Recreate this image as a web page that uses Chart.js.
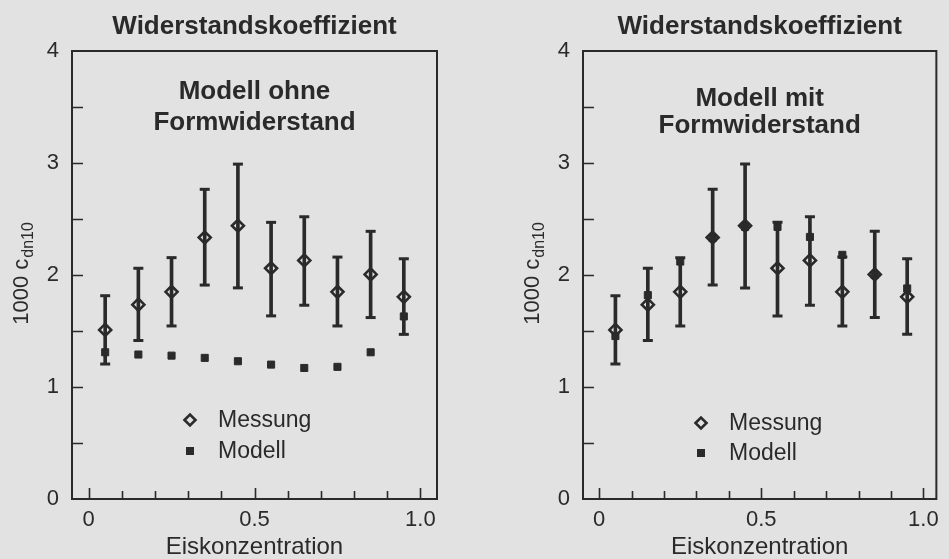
<!DOCTYPE html>
<html><head><meta charset="utf-8">
<script src="https://cdn.jsdelivr.net/npm/chart.js@4/dist/chart.umd.min.js"></script>
<style>
html,body{margin:0;padding:0;background:#e2e2e2;}
#wrap{position:relative;width:949px;height:559px;overflow:hidden;background:#e2e2e2;}
canvas{position:absolute;top:0;}
</style></head><body>
<div id="wrap">
<canvas id="c1" width="475" height="559" style="left:0;width:475px;height:559px"></canvas>
<canvas id="c2" width="438" height="559" style="left:511px;width:438px;height:559px"></canvas>
</div>
<script>
// ---- data ----
const concentration = [0.05, 0.15, 0.25, 0.35, 0.45, 0.55, 0.65, 0.75, 0.85, 0.95];
const measured      = [1.51, 1.735, 1.85, 2.335, 2.44, 2.06, 2.13, 1.85, 2.005, 1.805];
const measuredUpper = [1.815, 2.06, 2.155, 2.765, 2.99, 2.47, 2.52, 2.16, 2.39, 2.145];
const measuredLower = [1.205, 1.415, 1.545, 1.91, 1.885, 1.635, 1.73, 1.545, 1.62, 1.47];
const modelWithout  = [1.31, 1.29, 1.28, 1.26, 1.23, 1.20, 1.17, 1.18, 1.31, 1.63];
const modelWith     = [1.455, 1.82, 2.12, 2.33, 2.43, 2.43, 2.34, 2.18, 2.0, 1.88];
const xTickValues   = [0, 0.5, 1.0];
const xTickLabels   = ['0', '0.5', '1.0'];
const yTickValues   = [0, 1, 2, 3, 4];
const chartTitle    = 'Widerstandskoeffizient';
const panelTitles   = [['Modell ohne', 'Formwiderstand'], ['Modell mit', 'Formwiderstand']];
const legendLabels  = ['Messung', 'Modell'];
const xAxisTitle    = 'Eiskonzentration';
const yAxisMain     = '1000 c';
const yAxisSub      = 'dn10';

const INK = '#2a2a2a';
const FONT = "'Liberation Sans', Arial, Helvetica, sans-serif";

function pts(vals) { return concentration.map((x, i) => ({x: x, y: vals[i]})); }

const decor = {
  id: 'decor',
  beforeDatasetsDraw(chart) {
    const {ctx, chartArea: a, scales: {x, y}} = chart;
    ctx.save();
    ctx.strokeStyle = INK;
    ctx.lineWidth = 2;
    ctx.strokeRect(a.left, a.top, a.right - a.left, a.bottom - a.top);
    ctx.lineWidth = 1.6;
    ctx.beginPath();
    for (let k = 1; k < 8; k++) {
      const py = Math.round(y.getPixelForValue(k * 0.5)) + 0.5;
      ctx.moveTo(a.left, py); ctx.lineTo(a.left + 11, py);
    }
    for (let k = 0; k <= 10; k++) {
      const px = Math.round(x.getPixelForValue(k / 10)) + 0.5;
      const len = (k % 5 === 0) ? 11 : 8;
      ctx.moveTo(px, a.bottom); ctx.lineTo(px, a.bottom - len);
    }
    ctx.stroke();
    ctx.restore();
  },
  afterDraw(chart, args, o) {
    const {ctx, chartArea: a} = chart;
    const cx = (a.left + a.right) / 2;
    ctx.save();
    ctx.fillStyle = INK;
    ctx.textAlign = 'center';
    ctx.textBaseline = 'middle';
    ctx.font = 'bold 26px ' + FONT;
    ctx.fillText(chartTitle, cx, 27);
    ctx.fillText(o.lines[0], cx, a.top + o.t1);
    ctx.fillText(o.lines[1], cx, a.top + o.t2);
    // legend
    const lx = a.left + 118;
    const ly1 = a.top + o.l1, ly2 = a.top + o.l2;
    ctx.strokeStyle = INK; ctx.lineWidth = 2.6;
    ctx.beginPath();
    ctx.moveTo(lx - 5.5, ly1); ctx.lineTo(lx, ly1 - 5.5); ctx.lineTo(lx + 5.5, ly1); ctx.lineTo(lx, ly1 + 5.5); ctx.closePath();
    ctx.stroke();
    ctx.fillRect(lx - 4, ly2 - 4, 8, 8);
    ctx.textAlign = 'left';
    ctx.font = '23px ' + FONT;
    ctx.fillText(legendLabels[0], lx + 28, ly1 + 1);
    ctx.fillText(legendLabels[1], lx + 28, ly2 + 1);
    // y axis title with subscript
    ctx.translate(a.left - 44, (a.top + a.bottom) / 2 - 1);
    ctx.rotate(-Math.PI / 2);
    ctx.textBaseline = 'alphabetic';
    ctx.font = '22px ' + FONT;
    const w1 = ctx.measureText(yAxisMain).width;
    ctx.font = '16px ' + FONT;
    const w2 = ctx.measureText(yAxisSub).width;
    const start = -(w1 + w2) / 2;
    ctx.font = '22px ' + FONT;
    ctx.fillText(yAxisMain, start, 0);
    ctx.font = '16px ' + FONT;
    ctx.fillText(yAxisSub, start + w1 + 1, 5);
    ctx.restore();
  }
};

function makePanel(id, modelVals, xmax, rightPad, opt) {
  new Chart(document.getElementById(id), {
    type: 'scatter',
    data: {
      datasets: [
        { label: legendLabels[1], data: pts(modelVals), pointStyle: 'rect', pointRadius: 5,
          backgroundColor: INK, borderColor: INK, borderWidth: 1, order: 0 },
        { label: legendLabels[0], data: pts(measured), pointStyle: 'rectRot', pointRadius: 6,
          backgroundColor: 'rgba(0,0,0,0)', borderColor: INK, borderWidth: 2.6, order: 1 },
        { label: 'upper', data: pts(measuredUpper), pointStyle: 'line', pointRadius: 5,
          borderColor: INK, borderWidth: 3, order: 2 },
        { label: 'lower', data: pts(measuredLower), pointStyle: 'line', pointRadius: 5,
          borderColor: INK, borderWidth: 3, order: 2 },
        { type: 'bar', label: 'range', data: concentration.map((x, i) => ({x: x, y: [measuredLower[i], measuredUpper[i]]})),
          backgroundColor: INK, borderWidth: 0, barThickness: 3, order: 3 }
      ]
    },
    options: {
      responsive: false,
      animation: false,
      events: [],
      layout: { padding: { top: 51, right: rightPad, left: 0, bottom: 0 } },
      plugins: { legend: { display: false }, tooltip: { enabled: false }, decor: opt },
      scales: {
        x: {
          type: 'linear', min: -0.05, max: xmax, offset: false,
          grid: { display: false, drawTicks: false }, border: { display: false },
          afterFit(s) { s.height = 60; },
          afterBuildTicks(s) { s.ticks = xTickValues.map(v => ({value: v})); },
          ticks: { padding: 10, color: INK, font: { family: FONT, size: 22, lineHeight: 1 },
                   maxRotation: 0, autoSkip: false,
                   callback: (v) => xTickLabels[xTickValues.indexOf(v)] },
          title: { display: true, text: xAxisTitle, color: INK, padding: 0,
                   font: { family: FONT, size: 24, lineHeight: 1 } }
        },
        y: {
          type: 'linear', min: 0, max: 4,
          grid: { display: false, drawTicks: false }, border: { display: false },
          afterFit(s) { s.width = 72; },
          afterBuildTicks(s) { s.ticks = yTickValues.map(v => ({value: v})); },
          ticks: { padding: 13, color: INK, font: { family: FONT, size: 22, lineHeight: 1 },
                   callback: (v) => String(v) }
        }
      }
    },
    plugins: [decor]
  });
}

makePanel('c1', modelWithout, 1.05, 38, { lines: panelTitles[0], t1: 41, t2: 72, l1: 369, l2: 400 });
makePanel('c2', modelWith, 1.04, 5, { lines: panelTitles[1], t1: 48, t2: 75, l1: 372, l2: 402 });
</script>
</body></html>
